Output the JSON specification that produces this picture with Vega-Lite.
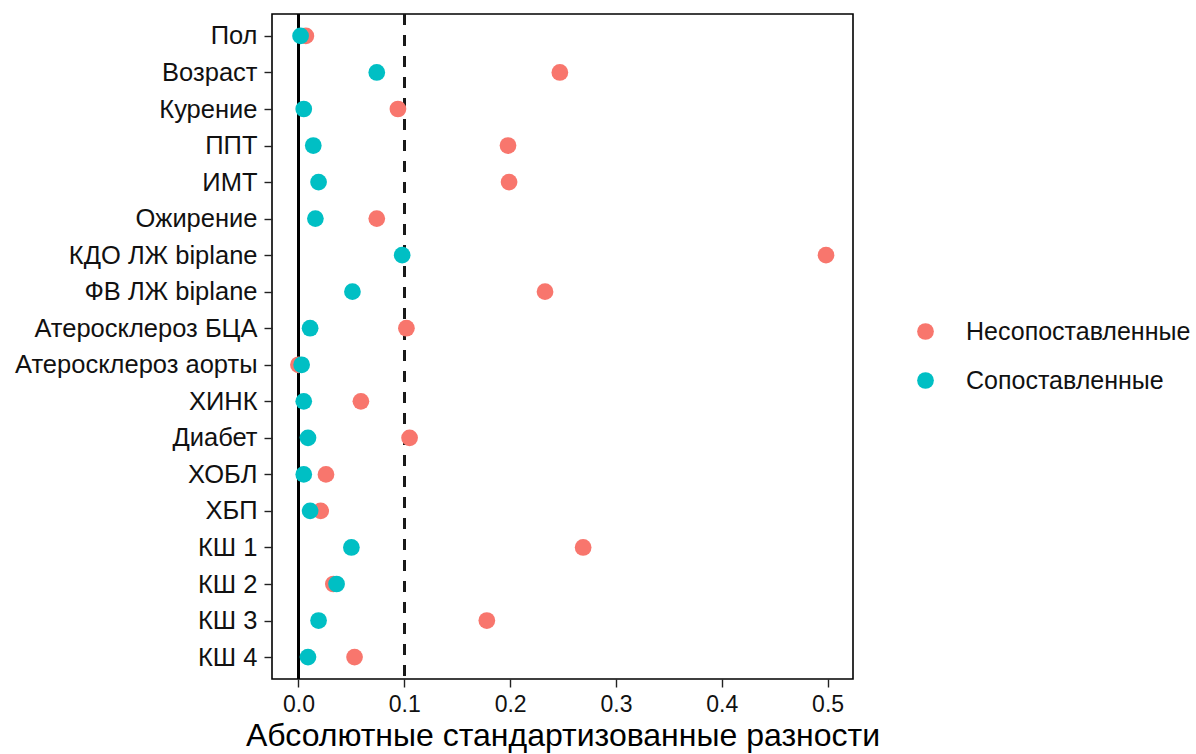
{
  "$schema": "https://vega.github.io/schema/vega-lite/v6.json",
  "width": 581,
  "height": 665,
  "autosize": {"type": "none"},
  "padding": {"left": 272, "top": 14, "right": 343, "bottom": 75},
  "background": "white",
  "config": {
    "font": "Liberation Sans",
    "view": {"stroke": "black", "strokeWidth": 1.6},
    "axis": {"grid": false, "domain": false, "tickColor": "#222222", "tickWidth": 1.4, "tickSize": 8, "labelColor": "#111111", "titleColor": "black", "titleFontWeight": "normal"}
  },
  "data": {
    "values": [
      {"var": "Пол", "group": "Несопоставленные", "diff": 0.007},
      {"var": "Возраст", "group": "Несопоставленные", "diff": 0.247},
      {"var": "Курение", "group": "Несопоставленные", "diff": 0.094},
      {"var": "ППТ", "group": "Несопоставленные", "diff": 0.198},
      {"var": "ИМТ", "group": "Несопоставленные", "diff": 0.199},
      {"var": "Ожирение", "group": "Несопоставленные", "diff": 0.074},
      {"var": "КДО ЛЖ biplane", "group": "Несопоставленные", "diff": 0.4985},
      {"var": "ФВ ЛЖ biplane", "group": "Несопоставленные", "diff": 0.233},
      {"var": "Атеросклероз БЦА", "group": "Несопоставленные", "diff": 0.102},
      {"var": "Атеросклероз аорты", "group": "Несопоставленные", "diff": 0.0},
      {"var": "ХИНК", "group": "Несопоставленные", "diff": 0.059},
      {"var": "Диабет", "group": "Несопоставленные", "diff": 0.105},
      {"var": "ХОБЛ", "group": "Несопоставленные", "diff": 0.026},
      {"var": "ХБП", "group": "Несопоставленные", "diff": 0.021},
      {"var": "КШ 1", "group": "Несопоставленные", "diff": 0.269},
      {"var": "КШ 2", "group": "Несопоставленные", "diff": 0.033},
      {"var": "КШ 3", "group": "Несопоставленные", "diff": 0.178},
      {"var": "КШ 4", "group": "Несопоставленные", "diff": 0.053},
      {"var": "Пол", "group": "Сопоставленные", "diff": 0.002},
      {"var": "Возраст", "group": "Сопоставленные", "diff": 0.074},
      {"var": "Курение", "group": "Сопоставленные", "diff": 0.005},
      {"var": "ППТ", "group": "Сопоставленные", "diff": 0.014},
      {"var": "ИМТ", "group": "Сопоставленные", "diff": 0.019},
      {"var": "Ожирение", "group": "Сопоставленные", "diff": 0.016},
      {"var": "КДО ЛЖ biplane", "group": "Сопоставленные", "diff": 0.098},
      {"var": "ФВ ЛЖ biplane", "group": "Сопоставленные", "diff": 0.051},
      {"var": "Атеросклероз БЦА", "group": "Сопоставленные", "diff": 0.011},
      {"var": "Атеросклероз аорты", "group": "Сопоставленные", "diff": 0.003},
      {"var": "ХИНК", "group": "Сопоставленные", "diff": 0.005},
      {"var": "Диабет", "group": "Сопоставленные", "diff": 0.009},
      {"var": "ХОБЛ", "group": "Сопоставленные", "diff": 0.005},
      {"var": "ХБП", "group": "Сопоставленные", "diff": 0.011},
      {"var": "КШ 1", "group": "Сопоставленные", "diff": 0.050},
      {"var": "КШ 2", "group": "Сопоставленные", "diff": 0.036},
      {"var": "КШ 3", "group": "Сопоставленные", "diff": 0.019},
      {"var": "КШ 4", "group": "Сопоставленные", "diff": 0.009}
    ]
  },
  "layer": [
    {
      "mark": {"type": "rule", "color": "black", "strokeWidth": 2},
      "encoding": {"x": {"datum": 0, "type": "quantitative"}}
    },
    {
      "mark": {"type": "rule", "color": "#1a1a1a", "strokeWidth": 2, "strokeDash": [11, 10]},
      "encoding": {"x": {"datum": 0.1, "type": "quantitative"}}
    },
    {
      "mark": {"type": "point", "filled": true, "shape": "circle", "size": 280, "opacity": 1},
      "encoding": {
        "x": {
          "field": "diff",
          "type": "quantitative",
          "scale": {"domain": [-0.025, 0.524], "nice": false, "zero": false},
          "axis": {
            "title": "Абсолютные стандартизованные разности",
            "values": [0, 0.1, 0.2, 0.3, 0.4, 0.5],
            "format": ".1f",
            "labelFontSize": 23,
            "labelPadding": 6,
            "titleFontSize": 32,
            "titlePadding": 4
          }
        },
        "y": {
          "field": "var",
          "type": "nominal",
          "sort": null,
          "scale": {"type": "point", "padding": 0.6},
          "axis": {"title": null, "labelFontSize": 25.5, "labelPadding": 7, "labelLimit": 400}
        },
        "color": {
          "field": "group",
          "type": "nominal",
          "scale": {"domain": ["Несопоставленные", "Сопоставленные"], "range": ["#F8766D", "#00BFC4"]},
          "legend": {
            "title": null,
            "orient": "none",
            "legendX": 641,
            "legendY": 305,
            "padding": 0,
            "symbolType": "circle",
            "symbolSize": 280,
            "symbolStrokeWidth": 0,
            "symbolOpacity": 1,
            "labelFontSize": 25,
            "labelColor": "#111111",
            "labelOffset": 28,
            "rowPadding": 23,
            "labelLimit": 400
          }
        }
      }
    }
  ]
}
